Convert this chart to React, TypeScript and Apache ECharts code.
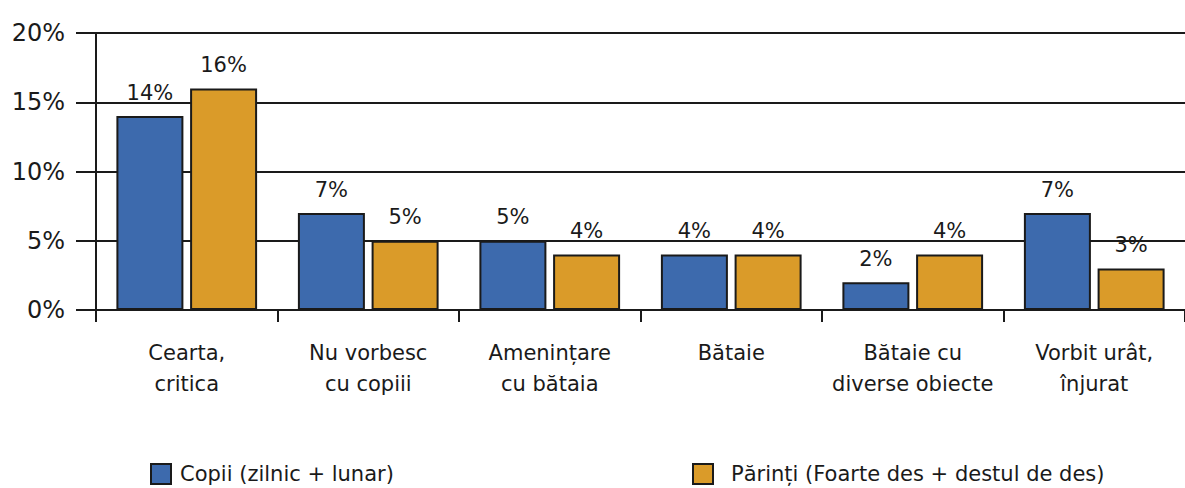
import React, { useEffect, useRef } from "react";
import * as echarts from "echarts";

const categories = [
  "Cearta,\ncritica",
  "Nu vorbesc\ncu copiii",
  "Amenințare\ncu bătaia",
  "Bătaie",
  "Bătaie cu\ndiverse obiecte",
  "Vorbit urât,\nînjurat",
];
const seriesNames = ["Copii (zilnic + lunar)", "Părinți (Foarte des + destul de des)"];
const copiiValues = [14, 7, 5, 4, 2, 7];
const parintiValues = [16, 5, 4, 4, 4, 3];
const yTicks = [0, 5, 10, 15, 20];

const FONT = "DejaVu Sans";
const INK = "#1a1a1a";
const BLUE = "#3D6AAD";
const ORANGE = "#DA9B29";

export default function App() {
  const ref = useRef<HTMLDivElement>(null);
  useEffect(() => {
    if (!ref.current) return;
    const chart = echarts.init(ref.current, null, { renderer: "svg" });
    const barLabel = {
      show: true,
      position: "top",
      distance: 13,
      formatter: "{c}%",
      color: INK,
      fontFamily: FONT,
      fontSize: 21,
    };
    const legendBase = {
      top: 463,
      padding: 0,
      itemWidth: 20,
      itemHeight: 20,
      icon: "rect",
      itemStyle: { borderColor: INK, borderWidth: 2 },
    };
    chart.setOption({
      animation: false,
      backgroundColor: "#ffffff",
      grid: { left: 96, top: 33, width: 1098, height: 277 },
      legend: [
        {
          ...legendBase,
          data: [seriesNames[0]],
          left: 150,
          textStyle: { fontFamily: FONT, fontSize: 21, color: INK, padding: [0, 0, 0, 4] },
        },
        {
          ...legendBase,
          data: [seriesNames[1]],
          left: 692,
          textStyle: { fontFamily: FONT, fontSize: 21, color: INK, padding: [0, 0, 0, 13] },
        },
      ],
      xAxis: {
        type: "category",
        data: categories,
        boundaryGap: true,
        axisLine: { show: true, lineStyle: { color: INK, width: 2 } },
        axisTick: { show: true, length: 12, alignWithLabel: false, lineStyle: { color: INK, width: 2 } },
        axisLabel: {
          interval: 0,
          margin: 27,
          fontFamily: FONT,
          fontSize: 21,
          lineHeight: 31,
          color: INK,
        },
      },
      yAxis: {
        type: "value",
        min: yTicks[0],
        max: yTicks[yTicks.length - 1],
        interval: 5,
        axisLine: { show: true, lineStyle: { color: INK, width: 2 } },
        axisTick: { show: true, length: 20, lineStyle: { color: INK, width: 2 } },
        splitLine: { show: true, lineStyle: { color: INK, width: 2 } },
        axisLabel: {
          formatter: "{value}%",
          margin: 31,
          fontFamily: FONT,
          fontSize: 24,
          color: INK,
        },
      },
      series: [
        {
          name: seriesNames[0],
          type: "bar",
          data: copiiValues,
          barWidth: 67,
          barGap: "10%",
          itemStyle: { color: BLUE, borderColor: INK, borderWidth: 2 },
          label: barLabel,
        },
        {
          name: seriesNames[1],
          type: "bar",
          data: parintiValues,
          barWidth: 67,
          barGap: "10%",
          itemStyle: { color: ORANGE, borderColor: INK, borderWidth: 2 },
          label: barLabel,
        },
      ],
    });
    return () => chart.dispose();
  }, []);
  return (
    <div
      ref={ref}
      style={{ position: "fixed", left: 0, top: 0, width: 1185, height: 488, background: "#fff" }}
    />
  );
}
